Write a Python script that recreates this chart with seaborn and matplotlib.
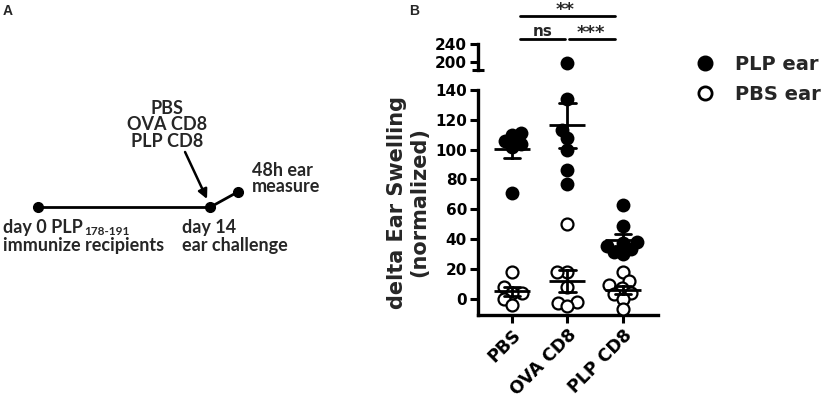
import numpy as np
import pandas as pd
import matplotlib
matplotlib.use("Agg")
import matplotlib.pyplot as plt
import matplotlib.transforms as mtransforms
from matplotlib.lines import Line2D
import seaborn as sns

# ---------------- data ----------------
groups = ["PBS", "OVA CD8", "PLP CD8"]
series_labels = ["PLP ear", "PBS ear"]

plp_ear_pbs = [111, 110, 106, 104, 102, 71]
plp_ear_ova = [197, 134, 113, 108, 100, 86, 77]
plp_ear_plp = [63, 49, 38, 37, 35, 33, 31, 30]

pbs_ear_pbs = [18, 8, 4, 4, 0, -4]
pbs_ear_ova = [50, 18, 18, 8, -2, -3, -5]
pbs_ear_plp = [18, 12, 9, 7, 4, 3, 0, -7]

y_ticks_lower = [0, 20, 40, 60, 80, 100, 120, 140]
y_ticks_upper = [200, 240]
sig_labels = ["**", "ns", "***"]

timeline_days = [0, 14]
measure_x = 16.3
treatments = ["PBS", "OVA CD8", "PLP CD8"]


def make_df(lists):
    rows = []
    for g, vals in zip(groups, lists):
        for v in vals:
            rows.append({"group": g, "value": v})
    return pd.DataFrame(rows)


df_plp = make_df([plp_ear_pbs, plp_ear_ova, plp_ear_plp])
df_pbs = make_df([pbs_ear_pbs, pbs_ear_ova, pbs_ear_plp])

# ---------------- style ----------------
sns.set_theme(style="white")
plt.rcParams["font.family"] = ["DejaVu Sans"]
plt.rcParams["font.weight"] = "bold"
plt.rcParams["axes.labelweight"] = "bold"

W_PX, H_PX = 829, 407
fig = plt.figure(figsize=(W_PX / 100, H_PX / 100), dpi=100)


def fx(px):
    return px / W_PX


def fy(py):
    return 1 - py / H_PX


ax_left = fx(478)
ax_w = fx(658 - 478)
ax = fig.add_axes([ax_left, fy(315), ax_w, (315 - 90) / H_PX])
axu = fig.add_axes([ax_left, fy(70), ax_w, (70 - 44) / H_PX])

XLIM = (-0.61, 2.63)

# ---------------- panel B ----------------
# swarm layout computed with compact markers (points overlap like the original)
swarm_colls = []  # (collection, display size, is_open)
for a in (ax, axu):
    n0 = len(a.collections)
    sns.swarmplot(data=df_plp, x="group", y="value", order=groups,
                  color="black", size=6.5, ax=a, zorder=3, warn_thresh=1.0)
    for c in a.collections[n0:]:
        swarm_colls.append((c, 10.0, False))
n0 = len(ax.collections)
sns.swarmplot(data=df_pbs, x="group", y="value", order=groups,
              color="white", edgecolor="black", linewidth=1.6, size=5.5,
              ax=ax, zorder=3, warn_thresh=1.0)
for c in ax.collections[n0:]:
    swarm_colls.append((c, 8.6, True))

for df in (df_plp, df_pbs):
    sns.pointplot(data=df, x="group", y="value", order=groups,
                  errorbar="se", color="black", marker="_", markersize=26,
                  markeredgewidth=2.0, linestyle="none", capsize=0.3,
                  err_kws={"linewidth": 2.0, "zorder": 5}, zorder=5, ax=ax)

ax.set_xlim(*XLIM)
axu.set_xlim(*XLIM)
ax.set_ylim(-11, 140)
axu.set_ylim(182, 240)

for a in (ax, axu):
    a.set_xlabel("")
    a.set_ylabel("")
    a.spines["top"].set_visible(False)
    a.spines["right"].set_visible(False)
    for s in a.spines.values():
        s.set_linewidth(2.4)
        s.set_color("black")
axu.spines["bottom"].set_visible(False)
axu.set_xticks([])

ax.set_yticks(y_ticks_lower)
ax.set_yticklabels([str(t) for t in y_ticks_lower])
axu.set_yticks(y_ticks_upper)
axu.set_yticklabels([str(t) for t in y_ticks_upper])
for a in (ax, axu):
    a.tick_params(axis="y", direction="out", length=6, width=2.2,
                  labelsize=11, pad=2, left=True, colors="black")
ax.tick_params(axis="x", direction="out", length=6, width=2.2,
               labelsize=12.5, pad=2, bottom=True, colors="black")
ax.set_xticks(range(len(groups)))
ax.set_xticklabels(groups, rotation=45, ha="right", rotation_mode="anchor",
                   fontweight="bold")
for lab in ax.get_yticklabels() + axu.get_yticklabels():
    lab.set_fontweight("bold")

# axis break marker at bottom of upper segment
axu.plot([-0.035, 0.035], [0, 0], transform=axu.transAxes, clip_on=False,
         color="black", lw=2.2, solid_capstyle="butt")

ax.set_ylabel("delta Ear Swelling\n(normalized)", fontsize=15,
              fontweight="bold", labelpad=4, linespacing=1.15)

# significance annotations
trans = mtransforms.blended_transform_factory(ax.transData, fig.transFigure)
ax.plot([0.14, 1.86], [fy(16)] * 2, transform=trans, clip_on=False,
        color="black", lw=2)
ax.plot([0.14, 0.95], [fy(39.3)] * 2, transform=trans, clip_on=False,
        color="black", lw=2)
ax.plot([1.02, 1.86], [fy(39.3)] * 2, transform=trans, clip_on=False,
        color="black", lw=2)
ax.text(0.955, fy(14.5), sig_labels[0], transform=trans, ha="center",
        va="baseline", fontsize=13, fontweight="bold")
ax.text(0.56, fy(35.5), sig_labels[1], transform=trans, ha="center",
        va="baseline", fontsize=11, fontweight="bold")
ax.text(1.42, fy(38.0), sig_labels[2], transform=trans, ha="center",
        va="baseline", fontsize=13, fontweight="bold")

# legend
handles = [
    Line2D([], [], marker="o", linestyle="none", markerfacecolor="black",
           markeredgecolor="black", markersize=10.5),
    Line2D([], [], marker="o", linestyle="none", markerfacecolor="white",
           markeredgecolor="black", markeredgewidth=2, markersize=9.5),
]
fig.legend(handles, series_labels, loc="upper left",
           bbox_to_anchor=(fx(687.5), fy(47.5)), frameon=False,
           prop={"size": 14, "weight": "bold"}, handlelength=1.0,
           handletextpad=1.05, labelspacing=0.55, borderaxespad=0,
           borderpad=0.4)

# ---------------- panel A ----------------
axA = fig.add_axes([0, 0, fx(330), 1])
axA.set_axis_off()
px_per_day = (210 - 38) / 14
axA.set_xlim(-38 / px_per_day, (330 - 38) / px_per_day)
axA.set_ylim(H_PX, 0)
line_y = 207.3
axA.plot(timeline_days, [line_y] * len(timeline_days), "-o", color="black",
         lw=2.0, ms=7, clip_on=False)
axA.plot([timeline_days[-1], measure_x], [line_y, 191.7], "-o",
         color="black", lw=2.0, ms=7, markevery=[1], clip_on=False)
axA.annotate("", xy=(13.76, 199), xytext=(11.97, 152),
             arrowprops=dict(arrowstyle="-|>", color="black", lw=1.8,
                             mutation_scale=14, shrinkA=0, shrinkB=0))

fA = {"family": ["Lato", "DejaVu Sans"], "weight": "bold", "size": 13}
for t, yy in zip(treatments, [108, 125, 141.7]):
    axA.text(10.47, yy, t, ha="center", va="center", fontdict=fA)
axA.text(17.4, 170, "48h ear", ha="left", va="center", fontdict=fA)
axA.text(17.4, 186, "measure", ha="left", va="center", fontdict=fA)
t0 = axA.text(-2.82, 227.5, "day 0 PLP", ha="left", va="center", fontdict=fA)
axA.text(-2.82, 245, "immunize recipients", ha="left", va="center", fontdict=fA)
axA.text(11.69, 227.5, "day 14", ha="left", va="center", fontdict=fA)
axA.text(11.69, 245, "ear challenge", ha="left", va="center", fontdict=fA)

# panel letters
fig.text(fx(2.5), fy(15), "A", fontsize=10, fontweight="bold",
         family=["Liberation Sans", "DejaVu Sans"], va="baseline")
fig.text(fx(409), fy(15), "B", fontsize=10, fontweight="bold",
         family=["Liberation Sans", "DejaVu Sans"], va="baseline")

# first draw: seaborn lays out the swarms; then freeze them and enlarge markers
fig.canvas.draw()
for c, s, is_open in swarm_colls:
    if "draw" in c.__dict__:
        del c.draw
    c.set_sizes([s ** 2])

bb = t0.get_window_extent(renderer=fig.canvas.get_renderer())
sub_x_days = axA.transData.inverted().transform((bb.x1 + 1, 0))[0]
axA.text(sub_x_days, 231.5, "178-191", ha="left", va="center",
         fontdict={"family": ["Lato", "DejaVu Sans"], "weight": "bold",
                   "size": 8.5})

fig.savefig("out.png", dpi=100, facecolor="white")
